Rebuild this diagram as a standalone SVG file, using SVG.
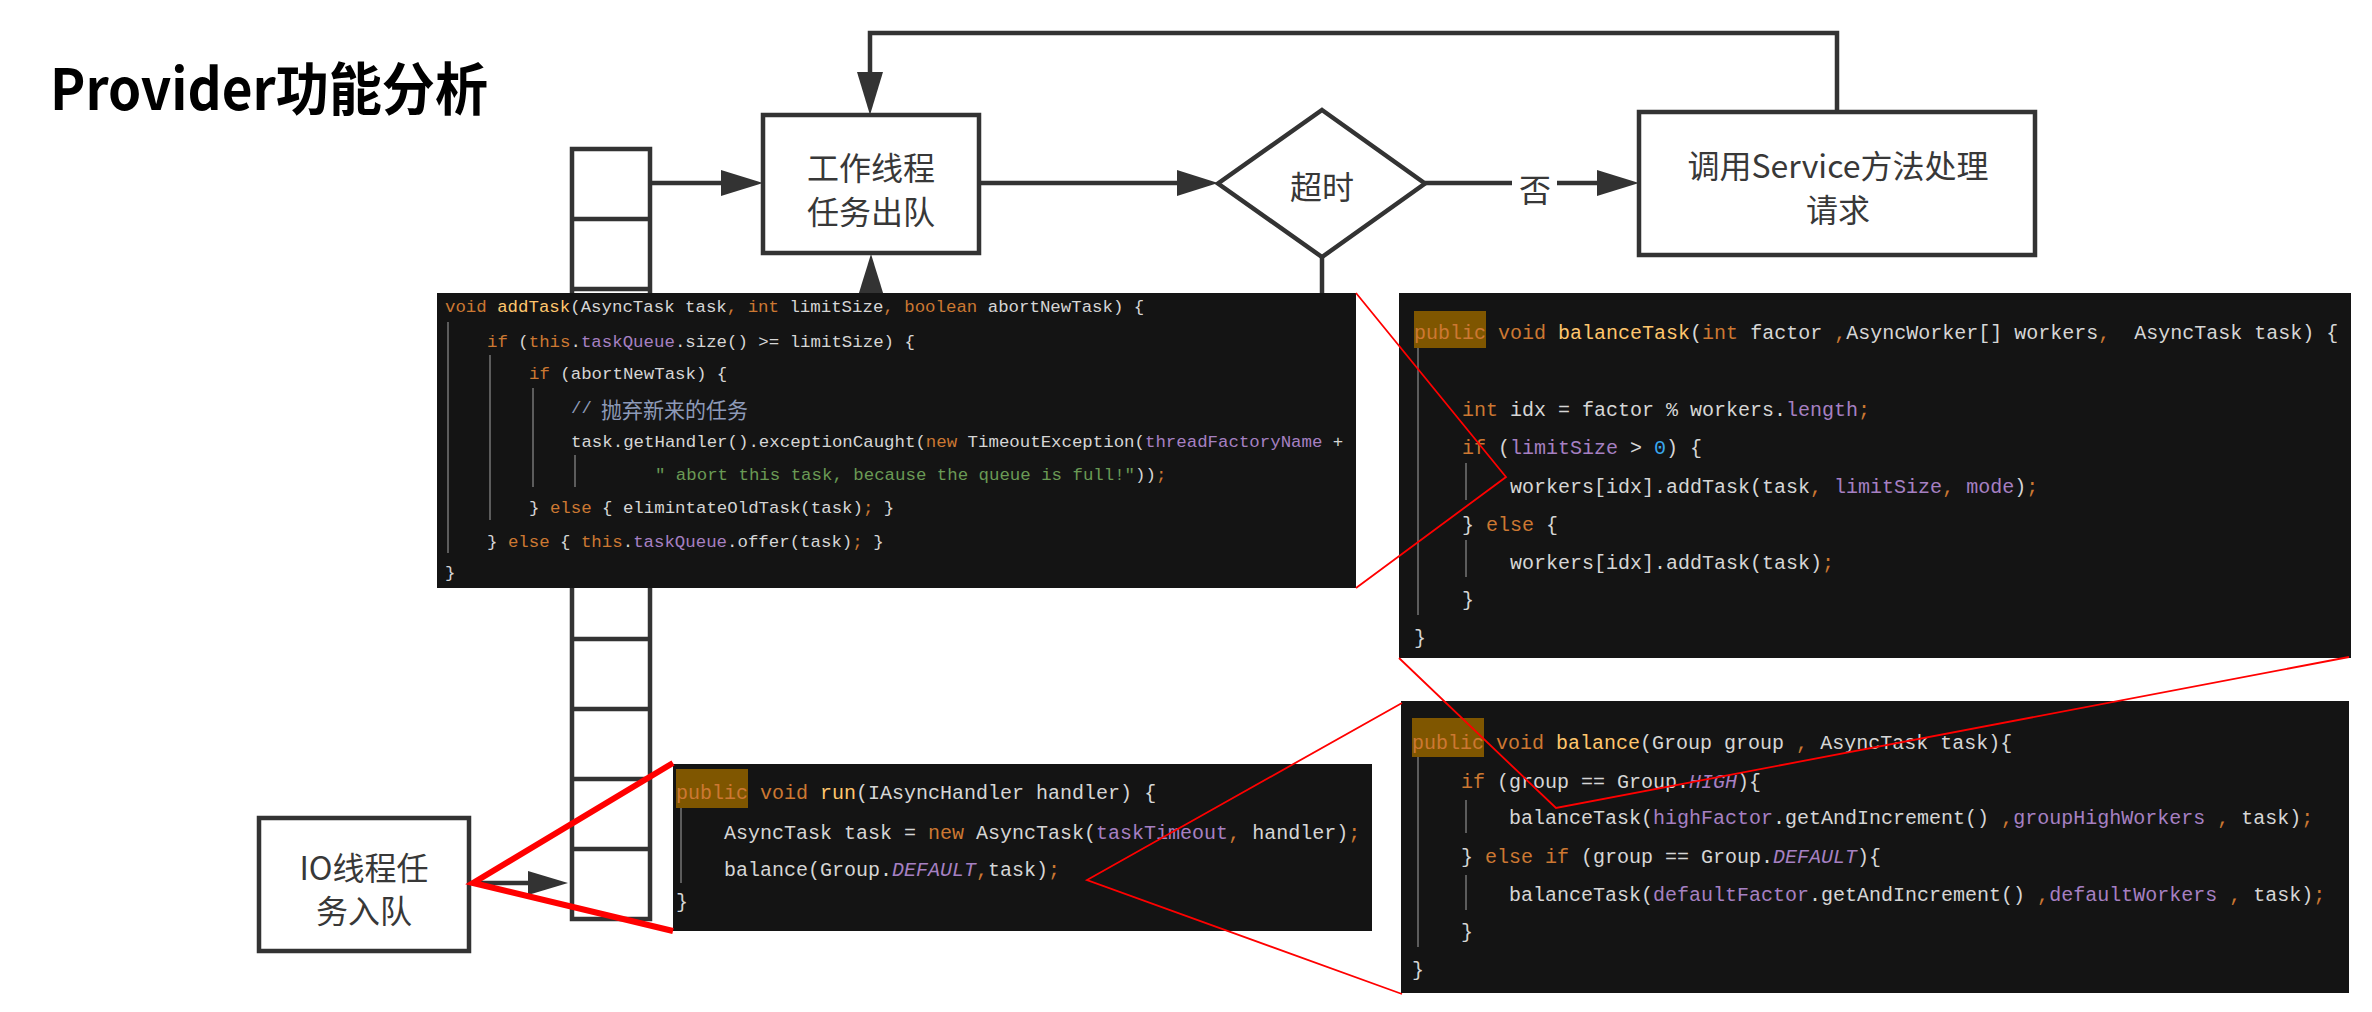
<svg xmlns="http://www.w3.org/2000/svg" width="2372" height="1012" viewBox="0 0 2372 1012" xml:space="preserve">
<style>
.ln{stroke:#333;stroke-width:4.5;fill:none}
.box{stroke:#333;stroke-width:4.5;fill:#fff}
.ah{fill:#333;stroke:none}
.lbl{font-family:"Noto Sans CJK SC","Noto Sans",sans-serif;font-size:32px;fill:#383838;text-anchor:middle;dominant-baseline:central}
.panel{fill:#141414}
.code{font-family:"Liberation Mono","DejaVu Sans Mono",monospace;fill:#d6d6d6;dominant-baseline:central;white-space:pre}
.c20{font-size:20px}
.c17{font-size:17.4px}
.k{fill:#cc7832}
.m{fill:#ffc66d}
.f{fill:#a680c2}
.fi{fill:#a680c2;font-style:italic}
.s{fill:#6a9a55}
.cm{fill:#8d9ab8}
.n{fill:#3aa8ee}
.pub{fill:#7f5600}
.guide{stroke:#5c5c5c;stroke-width:2}
.red{stroke:#ff0000;fill:none}
</style>

<g id="title">
<text x="50" y="110" font-family="'Noto Sans CJK SC','Noto Sans',sans-serif" font-weight="bold" font-size="57" fill="#000" textLength="438" lengthAdjust="spacingAndGlyphs">Provider功能分析</text>
</g>

<g id="queue">
<rect class="box" x="572" y="149" width="78" height="770"/>
<path class="ln" d="M572 219H650M572 289H650M572 359H650M572 429H650M572 499H650M572 569H650M572 639H650M572 709H650M572 779H650M572 849H650"/>
</g>

<g id="connectors">
<path class="ln" d="M650 183H724"/>
<polygon class="ah" points="763,183 721,170 721,196"/>
<path class="ln" d="M979 183H1180"/>
<polygon class="ah" points="1218,183 1177,170 1177,196"/>
<path class="ln" d="M1425 183H1512M1557 183H1600"/>
<polygon class="ah" points="1639,183 1597,170 1597,196"/>
<path class="ln" d="M1837 112V33H870V75"/>
<polygon class="ah" points="870,115 857,72 883,72"/>
<path class="ln" d="M1322 257V300"/>
<polygon class="ah" points="871,254 858,296 884,296"/>
<path class="ln" d="M469 883H530"/>
<polygon class="ah" points="568,883 528,871 528,895"/>
<text class="lbl" x="1535" y="188" font-size="30">否</text>
</g>

<g id="node-worker">
<rect class="box" x="763" y="115" width="216" height="138"/>
<text class="lbl" x="871" y="166">工作线程</text>
<text class="lbl" x="871" y="210">任务出队</text>
</g>

<g id="node-timeout">
<polygon class="box" points="1322,110 1425,183.5 1322,257 1218,183.5"/>
<text class="lbl" x="1322" y="185">超时</text>
</g>

<g id="node-service">
<rect class="box" x="1639" y="112" width="396" height="143"/>
<text class="lbl" x="1838" y="164">调用Service方法处理</text>
<text class="lbl" x="1838" y="208">请求</text>
</g>

<g id="node-io">
<rect class="box" x="259" y="818" width="210" height="133"/>
<text class="lbl" x="364" y="866">IO线程任</text>
<text class="lbl" x="364" y="909">务入队</text>
</g>

<g id="panel-addTask">
<rect class="panel" x="437" y="293" width="919" height="295"/>
<path class="guide" d="M448 322V553M490 355V520M533 388V487M575 455V487"/>
<text class="code c17" x="445" y="307"><tspan class="k">void</tspan> <tspan class="m">addTask</tspan>(AsyncTask task<tspan class="k">,</tspan> <tspan class="k">int</tspan> limitSize<tspan class="k">,</tspan> <tspan class="k">boolean</tspan> abortNewTask) {</text>
<text class="code c17" x="487" y="342"><tspan class="k">if</tspan> (<tspan class="k">this</tspan>.<tspan class="f">taskQueue</tspan>.size() &gt;= limitSize) {</text>
<text class="code c17" x="529" y="374"><tspan class="k">if</tspan> (abortNewTask) {</text>
<text class="code c17 cm" x="571" y="408">//</text>
<text x="601" y="408" font-family="'Noto Sans CJK SC',sans-serif" font-size="22" fill="#8d9ab8" dominant-baseline="central" textLength="147" lengthAdjust="spacingAndGlyphs">抛弃新来的任务</text>
<text class="code c17" x="571" y="442">task.getHandler().exceptionCaught(<tspan class="k">new</tspan> TimeoutException(<tspan class="f">threadFactoryName</tspan> +</text>
<text class="code c17" x="655" y="475"><tspan class="s">" abort this task, because the queue is full!"</tspan>))<tspan class="k">;</tspan></text>
<text class="code c17" x="529" y="508">} <tspan class="k">else</tspan> { elimintateOldTask(task)<tspan class="k">;</tspan> }</text>
<text class="code c17" x="487" y="542">} <tspan class="k">else</tspan> { <tspan class="k">this</tspan>.<tspan class="f">taskQueue</tspan>.offer(task)<tspan class="k">;</tspan> }</text>
<text class="code c17" x="445" y="573">}</text>
</g>

<g id="panel-balanceTask">
<rect class="panel" x="1399" y="293" width="952" height="365"/>
<rect class="pub" x="1414" y="311" width="72" height="37"/>
<path class="guide" d="M1418 348V615M1466 463V500M1466 540V577"/>
<text class="code c20" x="1414" y="333"><tspan class="k">public</tspan> <tspan class="k">void</tspan> <tspan class="m">balanceTask</tspan>(<tspan class="k">int</tspan> factor <tspan class="k">,</tspan>AsyncWorker[] workers<tspan class="k">,</tspan>  AsyncTask task) {</text>
<text class="code c20" x="1462" y="410"><tspan class="k">int</tspan> idx = factor % workers.<tspan class="f">length</tspan><tspan class="k">;</tspan></text>
<text class="code c20" x="1462" y="448"><tspan class="k">if</tspan> (<tspan class="f">limitSize</tspan> &gt; <tspan class="n">0</tspan>) {</text>
<text class="code c20" x="1510" y="487">workers[idx].addTask(task<tspan class="k">,</tspan> <tspan class="f">limitSize</tspan><tspan class="k">,</tspan> <tspan class="f">mode</tspan>)<tspan class="k">;</tspan></text>
<text class="code c20" x="1462" y="525">} <tspan class="k">else</tspan> {</text>
<text class="code c20" x="1510" y="563">workers[idx].addTask(task)<tspan class="k">;</tspan></text>
<text class="code c20" x="1462" y="600">}</text>
<text class="code c20" x="1414" y="638">}</text>
</g>

<g id="panel-balance">
<rect class="panel" x="1401" y="701" width="948" height="292"/>
<rect class="pub" x="1412" y="718" width="72" height="39"/>
<path class="guide" d="M1418 757V947M1466 800V833M1466 875V910"/>
<text class="code c20" x="1412" y="743"><tspan class="k">public</tspan> <tspan class="k">void</tspan> <tspan class="m">balance</tspan>(Group group <tspan class="k">,</tspan> AsyncTask task){</text>
<text class="code c20" x="1461" y="782"><tspan class="k">if</tspan> (group == Group.<tspan class="fi">HIGH</tspan>){</text>
<text class="code c20" x="1509" y="818">balanceTask(<tspan class="f">highFactor</tspan>.getAndIncrement() <tspan class="k">,</tspan><tspan class="f">groupHighWorkers</tspan> <tspan class="k">,</tspan> task)<tspan class="k">;</tspan></text>
<text class="code c20" x="1461" y="857">} <tspan class="k">else if</tspan> (group == Group.<tspan class="fi">DEFAULT</tspan>){</text>
<text class="code c20" x="1509" y="895">balanceTask(<tspan class="f">defaultFactor</tspan>.getAndIncrement() <tspan class="k">,</tspan><tspan class="f">defaultWorkers</tspan> <tspan class="k">,</tspan> task)<tspan class="k">;</tspan></text>
<text class="code c20" x="1461" y="932">}</text>
<text class="code c20" x="1412" y="970">}</text>
</g>

<g id="panel-run">
<rect class="panel" x="673" y="764" width="699" height="167"/>
<rect class="pub" x="676" y="769" width="72" height="39"/>
<path class="guide" d="M681 808V883"/>
<text class="code c20" x="676" y="793"><tspan class="k">public</tspan> <tspan class="k">void</tspan> <tspan class="m">run</tspan>(IAsyncHandler handler) {</text>
<text class="code c20" x="724" y="833">AsyncTask task = <tspan class="k">new</tspan> AsyncTask(<tspan class="f">taskTimeout</tspan><tspan class="k">,</tspan> handler)<tspan class="k">;</tspan></text>
<text class="code c20" x="724" y="870">balance(Group.<tspan class="fi">DEFAULT</tspan><tspan class="k">,</tspan>task)<tspan class="k">;</tspan></text>
<text class="code c20" x="676" y="902">}</text>
</g>

<g id="callouts">
<path class="red" stroke-width="6" d="M673 763L473 883L673 931"/>
<path class="red" stroke-width="1.8" d="M1402 703L1087 880L1402 994"/>
<path class="red" stroke-width="1.8" d="M1399 658L1556 808L2349 657"/>
<path class="red" stroke-width="1.8" d="M1356 293L1506 477L1356 588"/>
</g>
</svg>
